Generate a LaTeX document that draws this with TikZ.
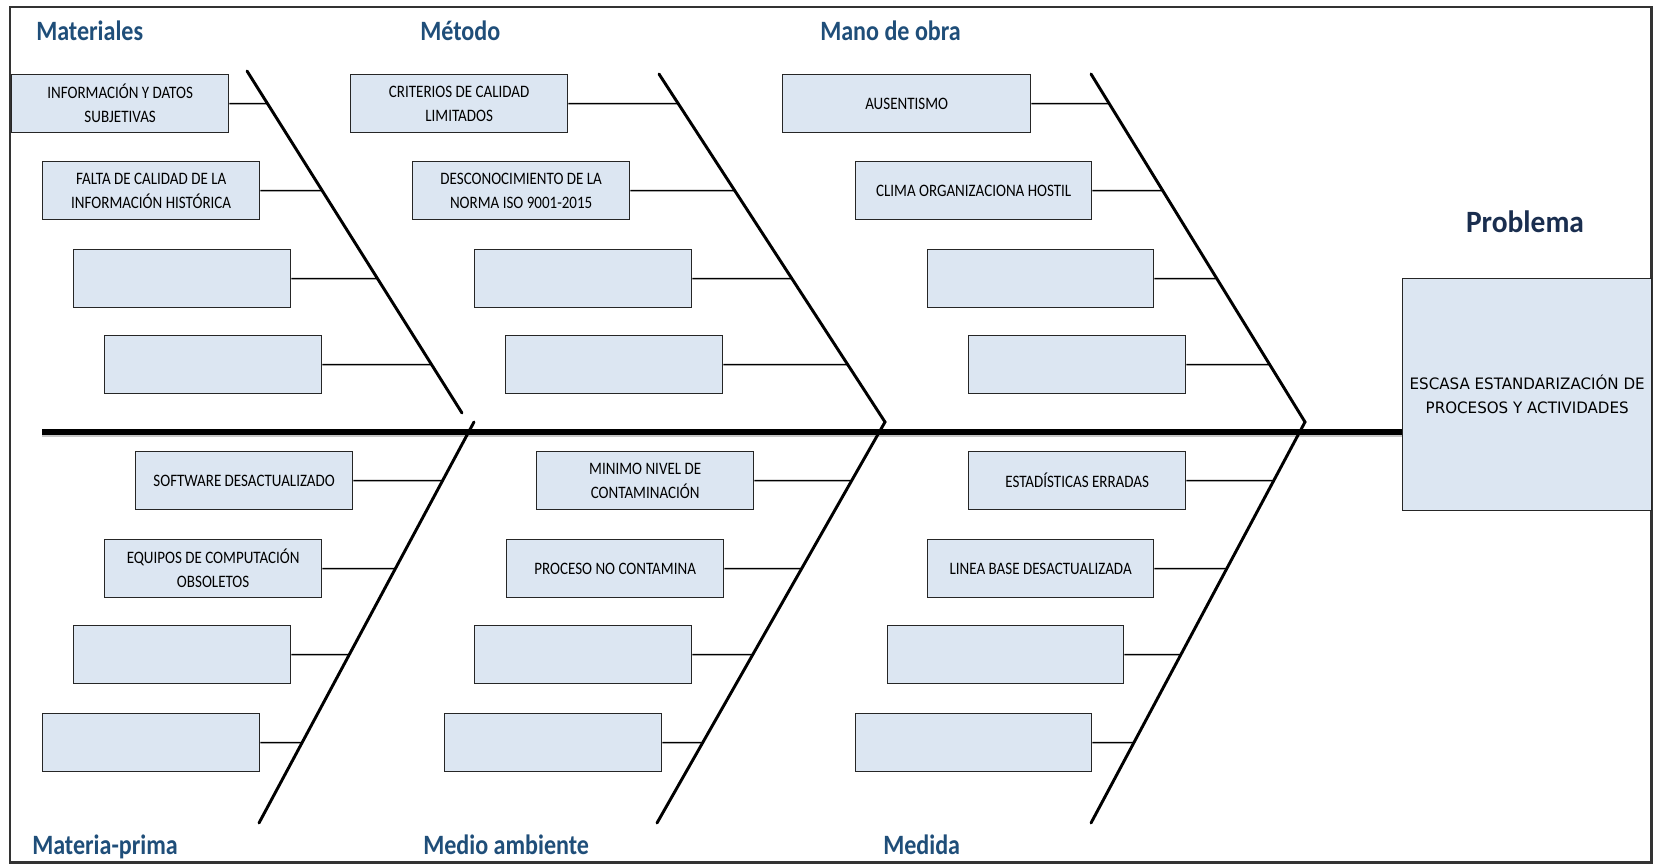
\documentclass[tikz,border=0pt]{standalone}
\usepackage{fontspec}
\setmainfont{Carlito}
\newfontfamily\boxfont{Carlito}[FakeStretch=0.86]
\newfontfamily\headfont{Carlito}[FakeStretch=0.86]
\newfontfamily\titlefont{Carlito}[FakeStretch=0.95]
\newfontfamily\probfont{DejaVu Sans}[FakeStretch=0.96]
\usetikzlibrary{calc}

\definecolor{boxfill}{HTML}{DCE6F2}
\definecolor{headblue}{HTML}{1F4E79}
\definecolor{probnavy}{HTML}{1A2E4F}

\tikzset{
  cause/.style={draw=black!85, line width=1pt, fill=boxfill, anchor=north west,
    minimum height=43.5pt, minimum width=162.75pt, inner sep=2pt, align=center,
    font=\boxfont\fontsize{13.1}{18}\selectfont},
  head/.style={anchor=base west, inner sep=0pt, text=headblue,
    font=\headfont\bfseries\fontsize{21}{25}\selectfont},
  bone/.style={line width=2.2pt, line cap=round, line join=miter},
  twig/.style={line width=1.1pt},
  spine/.style={line width=3.9pt},
}

\begin{document}
\begin{tikzpicture}[x=0.75pt,y=-0.75pt]
\useasboundingbox (0,0) rectangle (1653,866);

% outer frame
\draw[line width=1.6pt, black!80] (10,7) rectangle (1651.5,862.5);

% category headings
\node[head] (hmat)  at (36,41)  {Materiales};
\node[head] (hmet)  at (420,41) {Método};
\node[head] (hmo)   at (820,41) {Mano de obra};
\node[head] (hmp)   at (32,854) {Materia-prima};
\node[head] (hma)   at (423,854) {Medio ambiente};
\node[head] (hmed)  at (883,854) {Medida};
\node[anchor=base, inner sep=0pt, text=probnavy,
      font=\titlefont\bfseries\fontsize{23.25}{28}\selectfont] (hprob) at (1525,233) {Problema};

% effect box
\node[draw=black!85, line width=1pt, fill=boxfill, anchor=north west,
      minimum width=186.75pt, minimum height=174pt, inner sep=0pt, align=center,
      font=\probfont\fontsize{11.8}{18}\selectfont] (prob) at (1402,278)
      {ESCASA ESTANDARIZACIÓN DE\\PROCESOS Y ACTIVIDADES};

% main spine with a soft shadow
\coordinate (sp) at (42,432);
\draw[spine, black!22, transform canvas={yshift=-1.6pt}] (sp) -- (sp -| prob.west);
\draw[spine] (sp) -- (sp -| prob.west);

% bone end points
\coordinate (mt) at (247,71);   \coordinate (mb) at (462,413);
\coordinate (pt) at (474,422);  \coordinate (pb) at (259,823);
\coordinate (tt) at (659,74);   \coordinate (tk) at (885,422);  \coordinate (ab) at (657,823);
\coordinate (ot) at (1091,74);  \coordinate (ok) at (1305,422); \coordinate (db) at (1091,823);

\draw[bone] (mt) -- (mb);
\draw[bone] (pt) -- (pb);
\draw[bone] (tt) -- (tk) -- (ab);
\draw[bone] (ot) -- (ok) -- (db);

% Materiales
\node[cause] (m1) at (11,74)  {INFORMACIÓN Y DATOS\\SUBJETIVAS};
\node[cause] (m2) at (42,161) {FALTA DE CALIDAD DE LA\\INFORMACIÓN HISTÓRICA};
\node[cause] (m3) at (73,249) {};
\node[cause] (m4) at (104,335) {};

% Método
\node[cause] (t1) at (350,74)  {CRITERIOS DE CALIDAD\\LIMITADOS};
\node[cause] (t2) at (412,161) {DESCONOCIMIENTO DE LA\\NORMA ISO 9001-2015};
\node[cause] (t3) at (474,249) {};
\node[cause] (t4) at (505,335) {};

% Mano de obra
\node[cause, minimum width=186pt]   (o1) at (782,74)  {AUSENTISMO};
\node[cause, minimum width=177pt]   (o2) at (855,161) {CLIMA ORGANIZACIONA HOSTIL};
\node[cause, minimum width=169.5pt] (o3) at (927,249) {};
\node[cause]                        (o4) at (968,335) {};

% Materia-prima
\node[cause] (p1) at (135,451) {SOFTWARE DESACTUALIZADO};
\node[cause] (p2) at (104,539) {EQUIPOS DE COMPUTACIÓN\\OBSOLETOS};
\node[cause] (p3) at (73,625)  {};
\node[cause] (p4) at (42,713)  {};

% Medio ambiente
\node[cause] (a1) at (536,451) {MINIMO NIVEL DE\\CONTAMINACIÓN};
\node[cause] (a2) at (506,539) {PROCESO NO CONTAMINA};
\node[cause] (a3) at (474,625) {};
\node[cause] (a4) at (444,713) {};

% Medida
\node[cause]                        (d1) at (968,451) {ESTADÍSTICAS ERRADAS};
\node[cause, minimum width=169.5pt] (d2) at (927,539) {LINEA BASE DESACTUALIZADA};
\node[cause, minimum width=177pt]   (d3) at (887,625) {};
\node[cause, minimum width=177pt]   (d4) at (855,713) {};

% twigs from each cause to its bone
\foreach \b/\s/\e in {m1/mt/mb, m2/mt/mb, m3/mt/mb, m4/mt/mb,
                      t1/tt/tk, t2/tt/tk, t3/tt/tk, t4/tt/tk,
                      o1/ot/ok, o2/ot/ok, o3/ot/ok, o4/ot/ok,
                      p1/pt/pb, p2/pt/pb, p3/pt/pb, p4/pt/pb,
                      a1/tk/ab, a2/tk/ab, a3/tk/ab, a4/tk/ab,
                      d1/ok/db, d2/ok/db, d3/ok/db, d4/ok/db}{
  \coordinate (\b-end) at (intersection of \b.center--\b.east and \s--\e);
  \draw[twig] (\b.east) -- (\b-end);
}
\end{tikzpicture}
\end{document}
